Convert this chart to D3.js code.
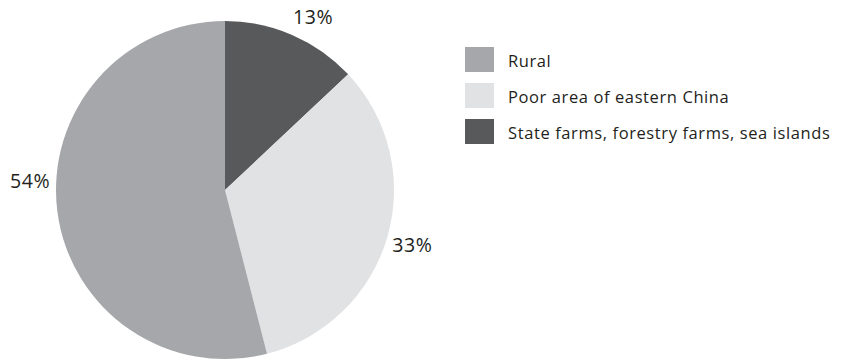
<!DOCTYPE html>
<html>
<head>
<meta charset="utf-8">
<script src="https://cdn.jsdelivr.net/npm/d3@7"></script>
<style>
  html, body { margin: 0; padding: 0; background: #ffffff; }
  svg { display: block; }
  text { font-family: "Open Sans", Lato, "Liberation Sans", sans-serif; fill: #231f20; }
</style>
</head>
<body>
<svg id="chart" width="847" height="360"></svg>
<script>
// Share of each area type (percent), drawn clockwise from 12 o'clock
const categories = ["State farms, forestry farms, sea islands", "Poor area of eastern China", "Rural"];
const values = [13, 33, 54];
const colors = ["#58595b", "#e1e2e4", "#a6a7aa"];
// Legend order as listed on the right
const legendOrder = ["Rural", "Poor area of eastern China", "State farms, forestry farms, sea islands"];

const width = 847, height = 360;
const cx = 225, cy = 190, radius = 169;

const svg = d3.select("#chart");

const color = d3.scaleOrdinal().domain(categories).range(colors);

const data = categories.map((c, i) => ({ category: c, value: values[i] }));

const pie = d3.pie().sort(null).value(d => d.value);
const arc = d3.arc().innerRadius(0).outerRadius(radius);
const arcs = pie(data);

const g = svg.append("g").attr("transform", `translate(${cx},${cy})`);

g.selectAll("path.slice")
  .data(arcs)
  .join("path")
  .attr("class", "slice")
  .attr("d", arc)
  .attr("fill", d => color(d.data.category));

// Percent labels outside the pie; small angular nudges keep them clear of the rim
const labelRadius = 195;
const labelNudge = { 0: 3.5, 1: 0, 2: 10 }; // degrees
g.selectAll("text.pct")
  .data(arcs)
  .join("text")
  .attr("class", "pct")
  .attr("text-anchor", "middle")
  .attr("dominant-baseline", "central")
  .style("font-size", "19.5px")
  .style("letter-spacing", "0.6px")
  .attr("transform", (d, i) => {
    const a = (d.startAngle + d.endAngle) / 2 + labelNudge[i] * Math.PI / 180;
    return `translate(${labelRadius * Math.sin(a)},${-labelRadius * Math.cos(a)})`;
  })
  .text(d => d.data.value + "%");

// Legend
const legend = svg.append("g").attr("transform", "translate(465,47)");
const rows = legend.selectAll("g.row")
  .data(legendOrder)
  .join("g")
  .attr("class", "row")
  .attr("transform", (d, i) => `translate(0,${i * 36})`);

rows.append("rect")
  .attr("width", 29)
  .attr("height", 25)
  .attr("fill", d => color(d));

rows.append("text")
  .attr("x", 43)
  .attr("y", 20)
  .style("font-size", "16.5px")
  .style("letter-spacing", "0.6px")
  .text(d => d);
</script>
</body>
</html>
